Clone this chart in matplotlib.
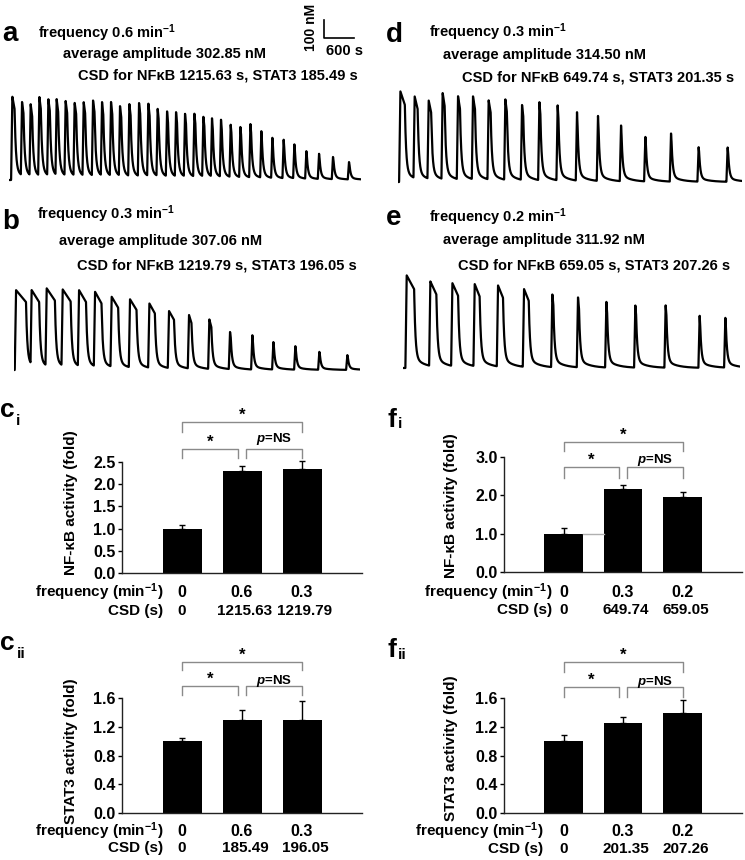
import numpy as np
import matplotlib
matplotlib.use("Agg")
import matplotlib.pyplot as plt
from matplotlib import transforms

plt.rcParams['font.family'] = ['Liberation Sans', 'DejaVu Sans']
plt.rcParams['font.weight'] = 'bold'
plt.rcParams['axes.labelweight'] = 'bold'
plt.rcParams['mathtext.fontset'] = 'custom'
plt.rcParams['mathtext.rm'] = 'Liberation Sans:bold'
plt.rcParams['mathtext.it'] = 'Liberation Sans:bold:italic'
plt.rcParams['mathtext.bf'] = 'Liberation Sans:bold'

# ---- calcium traces: peak time (s), peak height (nM), plateau length (s)
a_t = [67, 260, 433, 607, 787, 953, 1133, 1313, 1493, 1680, 1860, 2040, 2220, 2407, 2600,
       2787, 2973, 3160, 3340, 3520, 3707, 3887, 4060, 4240, 4433, 4627, 4827, 5047, 5267,
       5493, 5707, 5947, 6200, 6480, 6800]
a_h = [463, 435, 422, 463, 450, 450, 439, 431, 435, 444, 435, 435, 411, 422, 430,
       426, 398, 385, 380, 370, 370, 352, 343, 337, 309, 296, 315, 272, 235,
       226, 200, 161, 148, 130, 100]
a_w = [45, 30, 30, 30, 30, 30, 30, 30, 30, 30, 25, 25, 25, 25, 25,
       25, 20, 20, 20, 20, 20, 20, 15, 15, 15, 15, 15, 10, 10,
       10, 10, 10, 10, 10, 10]
a_end = 7047

b_t = [40, 353, 653, 973, 1300, 1620, 1953, 2320, 2707, 3100, 3500, 3907, 4320, 4767, 5187,
       5627, 6107, 6667]
b_h = [444, 444, 454, 448, 444, 435, 407, 393, 370, 328, 306, 281, 213, 194, 157, 133, 102, 83]
b_w = [200, 150, 165, 160, 140, 130, 130, 130, 110, 100, 50, 40, 15, 10, 10, 10, 10, 10]
b_end = 6920

d_t = [47, 333, 613, 893, 1200, 1500, 1813, 2147, 2480, 2827, 3193, 3580, 4000, 4460, 4947,
       5460, 6013, 6593]
d_h = [504, 476, 454, 496, 478, 476, 454, 459, 430, 448, 426, 389, 367, 319, 254, 272, 194, 194]
d_w = [90, 60, 50, 40, 40, 40, 40, 30, 25, 20, 15, 10, 10, 10, 10, 10, 10, 10]
d_end = 6880

e_t = [73, 547, 987, 1433, 1900, 2420, 2987, 3500, 4067, 4647, 5253, 5933, 6447]
e_h = [515, 481, 472, 467, 459, 439, 411, 393, 370, 348, 348, 291, 281]
e_w = [150, 120, 115, 100, 100, 95, 20, 20, 15, 15, 15, 10, 10]
e_end = 6733

# ---- bar data
pos = [1, 2, 3]
ci_vals = [1.0, 2.30, 2.34]
ci_errs = [0.07, 0.11, 0.18]
ci_freq = ['0', '0.6', '0.3']
ci_csd = ['0', '1215.63', '1219.79']

cii_vals = [1.0, 1.30, 1.29]
cii_errs = [0.04, 0.14, 0.27]
cii_freq = ['0', '0.6', '0.3']
cii_csd = ['0', '185.49', '196.05']

fi_vals = [1.0, 2.16, 1.96]
fi_errs = [0.14, 0.12, 0.12]
fi_freq = ['0', '0.3', '0.2']
fi_csd = ['0', '649.74', '659.05']

fii_vals = [1.0, 1.25, 1.39]
fii_errs = [0.08, 0.08, 0.18]
fii_freq = ['0', '0.3', '0.2']
fii_csd = ['0', '201.35', '207.26']

W, H = 745, 860
NM_PER_PX = 100 / 18.0
S_PER_PX = 20.0

fig = plt.figure(figsize=(W / 100, H / 100), dpi=100)


def fx(px):
    return px / W


def fy(py):
    return 1 - py / H


def box(l, t, r, b):
    return fig.add_axes([l / W, 1 - b / H, (r - l) / W, (b - t) / H])


def pulses(t, peaks, heights, widths, drop=0.85):
    y = np.zeros_like(t)
    for t0, h, w in zip(peaks, heights, widths):
        p = np.zeros_like(t)
        up = (t >= t0 - 25) & (t < t0)
        p[up] = h * (t[up] - (t0 - 25)) / 25
        pl = (t >= t0) & (t < t0 + w)
        p[pl] = h * (1 - (1 - drop) * (t[pl] - t0) / w)
        after = t >= t0 + w
        d = t[after] - t0 - w
        p[after] = h * drop * (0.86 * np.exp(-d / 25) + 0.14 * np.exp(-d / 200))
        y = np.maximum(y, p)
    return y


def trace(left, base, t_end, peaks, heights, widths):
    right = left + t_end / S_PER_PX
    ax = box(left, base - 100, right, base + 5)
    t = np.linspace(0, t_end, 4000)
    ax.plot(t, pulses(t, peaks, heights, widths), color='black', lw=1.6)
    ax.set_xlim(0, t_end)
    ax.set_ylim(-5 * NM_PER_PX, 100 * NM_PER_PX)
    ax.axis('off')
    return ax


ax_a = trace(9, 180, a_end, a_t, a_h, a_w)
ax_b = trace(14, 370, b_end, b_t, b_h, b_w)
ax_d = trace(398, 182, d_end, d_t, d_h, d_w)
ax_e = trace(403, 368, e_end, e_t, e_h, e_w)

# scale bar (600 s, 100 nM) in trace a units
ax_a.plot([6300, 6300, 6900], [889, 789, 789], color='black', lw=1.2, clip_on=False)
fig.text(fx(344), fy(55), '600 s', ha='center', va='baseline', fontsize=10.5)
fig.text(fx(311), fy(27), '100 nM', ha='center', va='center', rotation=90, fontsize=10)

fs = 10.5
head = [
    ('a', 2, 41, 38, 63, 78, 'frequency 0.6 min$^{-1}$', 'average amplitude 302.85 nM',
     'CSD for NFκB 1215.63 s, STAT3 185.49 s', (38, 58, 79)),
    ('b', 2, 229, 37, 59, 77, 'frequency 0.3 min$^{-1}$', 'average amplitude 307.06 nM',
     'CSD for NFκB 1219.79 s, STAT3 196.05 s', (219, 245, 269)),
    ('d', 386, 42, 429, 443, 462, 'frequency 0.3 min$^{-1}$', 'average amplitude 314.50 nM',
     'CSD for NFκB 649.74 s, STAT3 201.35 s', (37, 59, 82)),
    ('e', 386, 225, 429, 443, 458, 'frequency 0.2 min$^{-1}$', 'average amplitude 311.92 nM',
     'CSD for NFκB 659.05 s, STAT3 207.26 s', (222, 244, 269)),
]
for lab, lx, ly, x1, x2, x3, s1, s2, s3, ys in head:
    fig.text(fx(lx), fy(ly), lab, fontsize=20, va='baseline')
    fig.text(fx(x1), fy(ys[0]), s1, fontsize=fs, va='baseline')
    fig.text(fx(x2), fy(ys[1]), s2, fontsize=fs, va='baseline')
    fig.text(fx(x3), fy(ys[2]), s3, fontsize=fs, va='baseline')


def bar_panel(l, t, r, b, vals, errs, ymax, yticks, ylabel, label_xy, freq, csd,
              row_right, row_y, b1, b3, ns_y):
    ax = box(l, t, r, b)
    ax.bar(pos, vals, width=0.65, color='black')
    eb = ax.errorbar(pos, vals, yerr=[np.zeros(3), errs], fmt='none', ecolor='black',
                     elinewidth=1, capsize=2.5, capthick=1)
    for art in list(eb[1]) + list(eb[2]):
        art.set_clip_on(False)
    ax.set_xlim(0, 4)
    ax.set_ylim(0, ymax)
    ax.set_yticks(yticks)
    ax.set_yticklabels([f'{v:.1f}' for v in yticks])
    for s in ['top', 'right']:
        ax.spines[s].set_visible(False)
    for s in ['left', 'bottom']:
        ax.spines[s].set_linewidth(1)
        ax.spines[s].set_color('#222222')
    ax.tick_params(axis='x', length=0, labelbottom=False)
    ax.tick_params(axis='y', length=3, width=1, pad=1.5, labelsize=11.5)
    ax.set_ylabel(ylabel, fontsize=11)
    ax.yaxis.set_label_coords(label_xy[0], label_xy[1])

    tr = transforms.blended_transform_factory(ax.transData, fig.transFigure)
    for i, (x, f, c) in enumerate(zip(pos, freq, csd)):
        ax.text(x, fy(row_y[0]), f, transform=tr, ha='center', va='baseline', fontsize=11.5)
        ax.text(x + (0.05 if i else 0), fy(row_y[1]), c, transform=tr, ha='center',
                va='baseline', fontsize=11)
    fig.text(fx(row_right), fy(row_y[0]), 'frequency (min$^{-1}$)', ha='right',
             va='baseline', fontsize=11)
    fig.text(fx(row_right), fy(row_y[1]), 'CSD (s)', ha='right', va='baseline', fontsize=11)

    def bracket(x1, x2, top, tip):
        ax.plot([x1, x1, x2, x2], [fy(tip), fy(top), fy(top), fy(tip)], transform=tr,
                color='#8a8a8a', lw=1, clip_on=False)

    bracket(pos[0], 1.93, b1[0], b1[1])
    bracket(2.07, pos[2], b1[0], b1[1])
    bracket(pos[0], pos[2], b3[0], b3[1])
    ax.text((pos[0] + 1.93) / 2, fy(b1[0] - 2), '*', transform=tr, ha='center',
            va='baseline', fontsize=12)
    ax.text((pos[0] + pos[2]) / 2, fy(b3[0] - 2), '*', transform=tr, ha='center',
            va='baseline', fontsize=12)
    ax.text((2.07 + pos[2]) / 2, fy(ns_y), '$p$=NS', transform=tr, ha='center',
            va='baseline', fontsize=9.5)
    return ax


ax_ci = bar_panel(122, 462, 362, 573, ci_vals, ci_errs, 2.5, [0, 0.5, 1.0, 1.5, 2.0, 2.5],
                  'NF-κB activity (fold)', (-0.183, 0.63), ci_freq, ci_csd,
                  163, (597, 615), (449, 458), (422, 432), 442)
ax_fi = bar_panel(504, 457, 742, 572, fi_vals, fi_errs, 3.0, [0, 1.0, 2.0, 3.0],
                  'NF-κB activity (fold)', (-0.193, 0.58), fi_freq, fi_csd,
                  552, (597, 614), (467, 478), (442, 451), 463)
ax_fi.plot([pos[0] + 0.325, pos[1] - 0.325], [fi_vals[0], fi_vals[0]], color='#b0b0b0', lw=1)
ax_cii = bar_panel(122, 698, 362, 813, cii_vals, cii_errs, 1.6, [0, 0.4, 0.8, 1.2, 1.6],
                   'STAT3 activity (fold)', (-0.183, 0.54), cii_freq, cii_csd,
                   163, (836, 852), (686, 695), (662, 670), 684)
ax_fii = bar_panel(504, 698, 742, 813, fii_vals, fii_errs, 1.6, [0, 0.4, 0.8, 1.2, 1.6],
                   'STAT3 activity (fold)', (-0.193, 0.56), fii_freq, fii_csd,
                   543, (836, 853), (687, 697), (662, 672), 685)

# panel letters with subscripts
for lab, sub, lx, ly, sx, sy in [('c', 'i', 0, 417, 16, 425), ('f', 'i', 387, 427, 398, 428),
                                 ('c', 'ii', 0, 650, 17, 658), ('f', 'ii', 387, 657, 398, 659)]:
    fig.text(fx(lx), fy(ly), lab, fontsize=19, va='baseline')
    fig.text(fx(sx), fy(sy), sub, fontsize=11, va='baseline')

fig.savefig('out.png', dpi=100)
